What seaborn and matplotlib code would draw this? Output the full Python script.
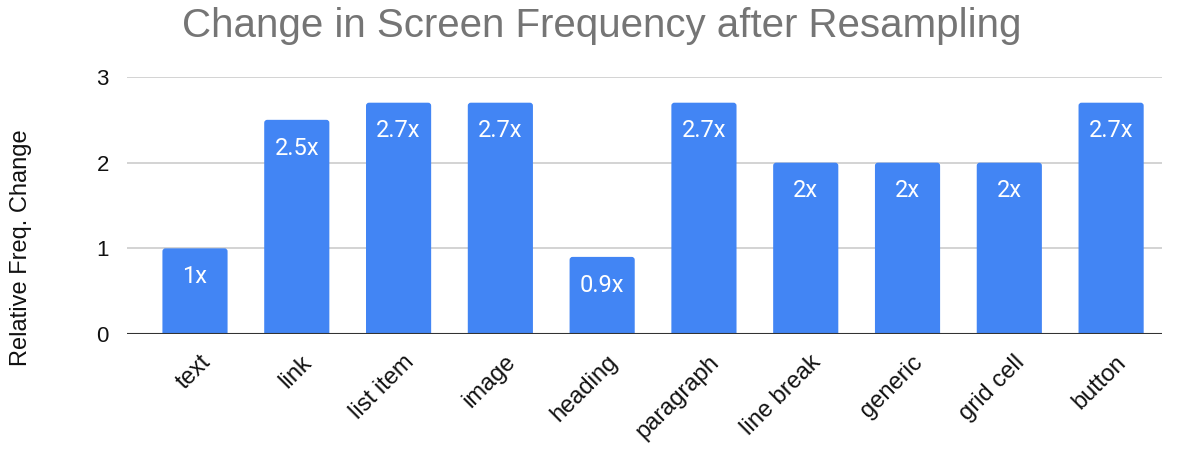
import matplotlib
matplotlib.use("Agg")
import matplotlib.pyplot as plt
import matplotlib.transforms as mtransforms
import seaborn as sns
import pandas as pd
from matplotlib.patches import FancyBboxPatch

categories = ["text", "link", "list item", "image", "heading", "paragraph",
              "line break", "generic", "grid cell", "button"]
values = [1.0, 2.5, 2.7, 2.7, 0.9, 2.7, 2.0, 2.0, 2.0, 2.7]
labels = ["1x", "2.5x", "2.7x", "2.7x", "0.9x", "2.7x", "2x", "2x", "2x", "2.7x"]

df = pd.DataFrame({"category": categories, "value": values})

sns.set_theme(style="white")
plt.rcParams["font.family"] = ["Liberation Sans", "DejaVu Sans"]

W, H = 1179, 449
fig = plt.figure(figsize=(W / 100, H / 100), dpi=100)
ax = fig.add_axes([127 / W, 1 - 334 / H, (1162 - 127) / W, (334 - 77) / H])

BAR = "#4285F4"
sns.barplot(data=df, x="category", y="value", color=BAR, width=0.64,
            saturation=1, ax=ax, zorder=3)

ax.set_ylim(0, 3)
ax.set_xlim(-0.668, len(categories) - 0.5)

# replace bars with slightly rounded ones
xpx = 101.8
ypx = 257 / 3
r = 3 / xpx
aspect = (1 / ypx) / (1 / xpx)
for p in list(ax.patches):
    x0, y0 = p.get_x(), p.get_y()
    w, h = p.get_width(), p.get_height()
    fb = FancyBboxPatch((x0, y0 - 0.1), w, h + 0.1,
                        boxstyle=f"round,pad=0,rounding_size={r}",
                        mutation_aspect=aspect, facecolor=BAR, edgecolor="none",
                        zorder=3)
    p.remove()
    ax.add_patch(fb)

ax.set_yticks([0, 1, 2, 3])
ax.yaxis.grid(True, color="#cccccc", linewidth=1.2, zorder=0)
ax.axhline(0, color="#333333", linewidth=1.5, zorder=4)
for s in ax.spines.values():
    s.set_visible(False)
ax.tick_params(axis="both", length=0, colors="#111111")
ax.tick_params(axis="y", pad=13, labelsize=16)
ax.tick_params(axis="x", pad=18, labelsize=17)
offset = mtransforms.ScaledTranslation(12 / 100, 0, fig.dpi_scale_trans)
for lab in ax.get_xticklabels():
    lab.set_rotation(45)
    lab.set_ha("right")
    lab.set_va("center")
    lab.set_rotation_mode("anchor")
    lab.set_transform(lab.get_transform() + offset)
ax.set_xlabel("")
ax.set_ylabel("")

fig.text(21 / W, 1 - 248 / H, "Relative Freq. Change", rotation=90,
         ha="center", va="center", fontsize=17, color="#111111")

for i, (v, lab) in enumerate(zip(values, labels)):
    ax.text(i, v - 0.405, lab, ha="center", va="baseline", color="white",
            fontsize=17, family=["Roboto", "DejaVu Sans"], zorder=5)

fig.text(602 / W, 1 - 37 / H, "Change in Screen Frequency after Resampling",
         ha="center", va="baseline", fontsize=29, color="#757575")

fig.savefig("out.png", dpi=100)
